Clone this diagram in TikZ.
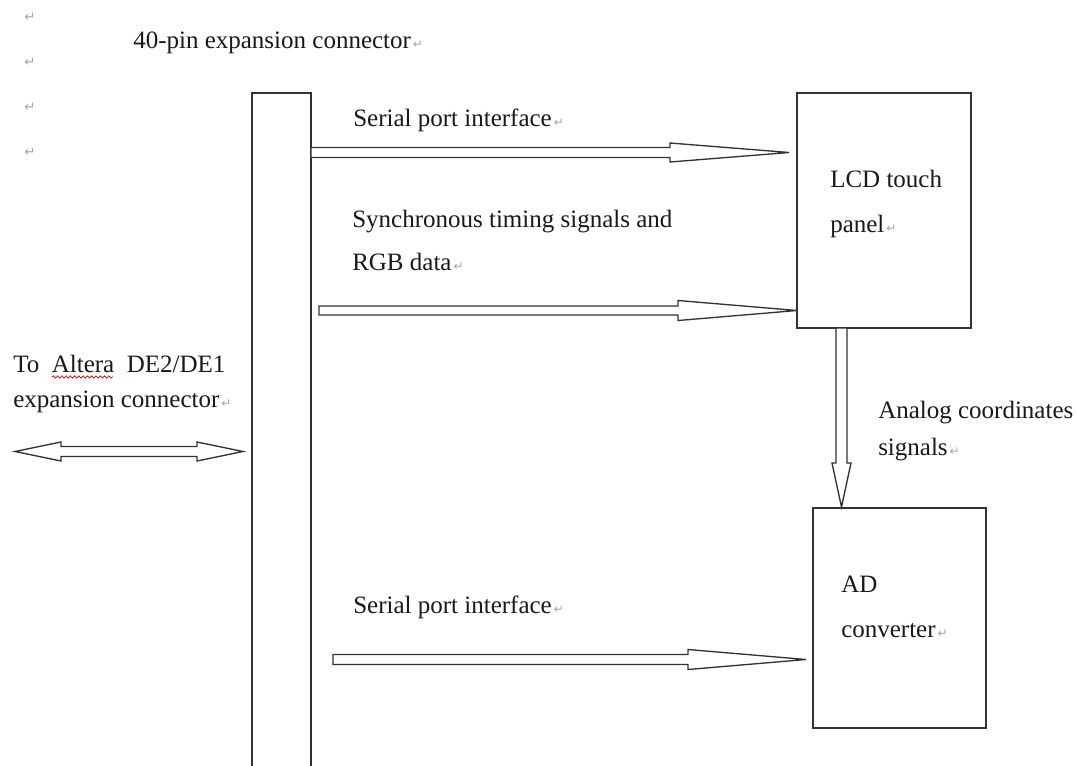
\documentclass[tikz,border=0pt]{standalone}
\usepackage{fontspec}
\setmainfont{Liberation Serif}
\newfontfamily\djv{DejaVu Sans}
\usetikzlibrary{calc,fit,decorations.pathmorphing}
\newcommand\parmark{{\djv\fontsize{9}{9}\selectfont\color{black!35}\,↵}}
% right-pointing block arrow: start, tip, shaft half, head half, head length
\newcommand\rarrow[5]{%
  \draw[blk] ($(#1)+(0,-#3)$) -- ($(#2)+(-#5,-#3)$) -- ($(#2)+(-#5,-#4)$) -- (#2)
    -- ($(#2)+(-#5,#4)$) -- ($(#2)+(-#5,#3)$) -- ($(#1)+(0,#3)$) -- cycle;}
% downward block arrow
\newcommand\darrow[5]{%
  \draw[blk] ($(#1)+(-#3,0)$) -- ($(#2)+(-#3,-#5)$) -- ($(#2)+(-#4,-#5)$) -- (#2)
    -- ($(#2)+(#4,-#5)$) -- ($(#2)+(#3,-#5)$) -- ($(#1)+(#3,0)$) -- cycle;}
% double-headed horizontal block arrow: left tip, right tip
\newcommand\lrarrow[5]{%
  \draw[blk] (#1) -- ($(#1)+(#5,-#4)$) -- ($(#1)+(#5,-#3)$) -- ($(#2)+(-#5,-#3)$)
    -- ($(#2)+(-#5,-#4)$) -- (#2) -- ($(#2)+(-#5,#4)$) -- ($(#2)+(-#5,#3)$)
    -- ($(#1)+(#5,#3)$) -- ($(#1)+(#5,#4)$) -- cycle;}
\begin{document}
\begin{tikzpicture}[x=0.75pt,y=-0.75pt,
  box/.style={draw=black!80,line width=1.2pt,inner sep=0pt},
  blk/.style={draw=black!80,line width=1pt,fill=white,line join=miter},
  lbl/.style={anchor=base west,inner sep=0pt,text=black!90,font=\fontsize{18.75}{22}\selectfont},
  pmk/.style={inner sep=0pt,text=black!35,font=\djv\fontsize{10}{10}\selectfont}]
\fill[white] (0,0) rectangle (1076,765);
\clip (0,0) rectangle (1076,765);

% paragraph marks at the left margin
\node[pmk] (m1) at (30,17) {↵};
\node[pmk] (m2) at (30,62) {↵};
\node[pmk] (m3) at (30,107) {↵};
\node[pmk] (m4) at (30,152) {↵};

% blocks
\node[box,fit={(252,93) (311,800)}] (bar) {};
\node[box,fit={(797,93) (971,328)}] (lcd) {};
\node[box,fit={(813,508) (986,728)}] (ad) {};

% labels
\node[lbl] (t40) at (133,48) {40-pin expansion connector\parmark};
\node[lbl] (tsp1) at (353,126) {Serial port interface\parmark};
\node[lbl] (tsync1) at (352,227) {Synchronous timing signals and};
\node[lbl] (tsync2) at (352,270) {RGB data\parmark};
\node[lbl] (tlcd1) at (830,187) {LCD touch};
\node[lbl] (tlcd2) at (830,232) {panel\parmark};
\node[lbl] (tan1) at (878,418) {Analog coordinates};
\node[lbl] (tan2) at (878,455) {signals\parmark};
\node[lbl] (tad1) at (841,592) {AD};
\node[lbl] (tad2) at (841,637) {converter\parmark};
\node[lbl] (tsp2) at (353,613) {Serial port interface\parmark};
\node[lbl] (talt1) at (13,372) {To\hspace{9.4pt}Altera\hspace{9.4pt}DE2/DE1};
\node[lbl] (talt2) at (13,407) {expansion connector\parmark};
\draw[red!75!black,line width=0.5pt,decorate,
  decoration={snake,amplitude=0.9,segment length=3.2}] (52,377) -- (113,377);

% connectors
\coordinate (s1) at (311,152.5);  \coordinate (e1) at (789,152.5);
\coordinate (s2) at (319,310.5);  \coordinate (e2) at (797,310.5);
\coordinate (s3) at (333,659.5);  \coordinate (e3) at (806,659.5);
\coordinate (sv) at (841.5,328);  \coordinate (ev) at (841.5,507);
\coordinate (dl) at (15,451.5);   \coordinate (dr) at (243,451.5);
\rarrow{s1}{e1}{5}{9.5}{119}
\rarrow{s2}{e2}{4.5}{10}{119}
\rarrow{s3}{e3}{5}{10}{118}
\darrow{sv}{ev}{5.5}{9.5}{44}
\lrarrow{dl}{dr}{5}{9.5}{46}
\end{tikzpicture}
\end{document}
